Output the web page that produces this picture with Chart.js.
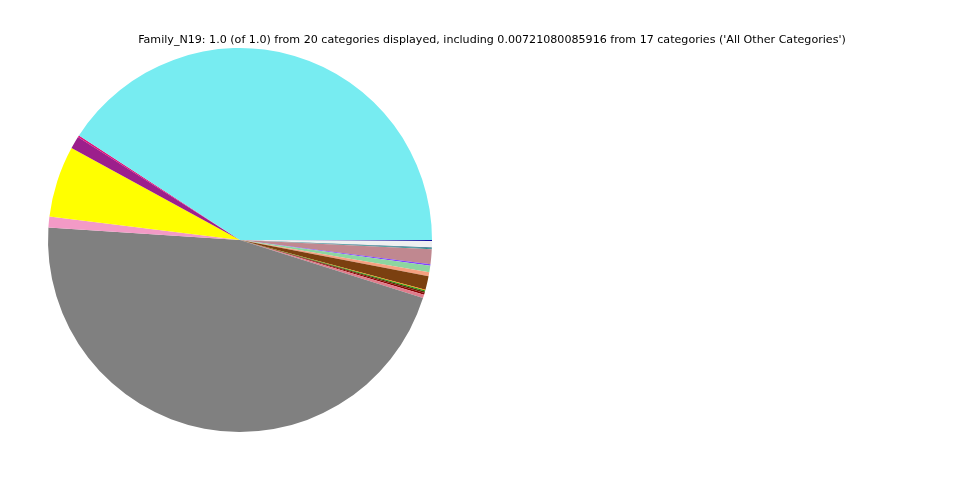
<!DOCTYPE html>
<html><head><meta charset="utf-8">
<script src="https://cdn.jsdelivr.net/npm/chart.js@4/dist/chart.umd.min.js"></script>
<style>html,body{margin:0;padding:0;background:#fff;}#wrap{width:960px;height:480px;}</style>
</head><body><div id="wrap"><canvas id="c" width="960" height="480"></canvas></div>
<script>
// Categories in matplotlib counter-clockwise order starting at 3 o'clock
const categories = ["Cat A","Cat B","Cat C","Cat D","Cat E","Cat F","Cat G","Cat H","Cat I","Cat J","Cat K","Cat L","Cat M","Cat N","Cat O","Cat P","Cat Q","Cat R","Cat S","All Other Categories"];
const values = [0.408,0.0015,0.0105,0.060,0.0092,0.461,0.003,0.0015,0.0012,0.0008,0.0008,0.0115,0.0033,0.0055,0.0012,0.0125,0.0008,0.0005,0.0055,0.0008];
const colors = ["#77ecf1","#e0107a","#9c1f8c","#ffff00","#f39ac6","#808080","#e07c8c","#8b0000","#5a2a00","#00a000","#ff8c00","#7b4010","#f5a080","#8cd6a0","#8040ff","#c08890","#2f8f8f","#1f5f7f","#eef0f0","#1010a0"];
const titleText = "Family_N19: 1.0 (of 1.0) from 20 categories displayed, including 0.00721080085916 from 17 categories ('All Other Categories')";

// Chart.js draws clockwise from rotation; reverse to mimic counter-clockwise layout
const labelsCW = categories.slice().reverse();
const valuesCW = values.slice().reverse();
const colorsCW = colors.slice().reverse();

const titlePlugin = {
  id: 'freeTitle',
  afterDraw(chart) {
    const ctx = chart.ctx;
    ctx.save();
    ctx.font = '11.1px "DejaVu Sans"';
    ctx.fillStyle = '#000';
    ctx.textAlign = 'center';
    ctx.textBaseline = 'middle';
    ctx.fillText(titleText, 492, 40);
    ctx.restore();
  }
};

new Chart(document.getElementById('c'), {
  type: 'pie',
  data: { labels: labelsCW, datasets: [{ data: valuesCW, backgroundColor: colorsCW, borderWidth: 0 }] },
  options: {
    responsive: false,
    animation: false,
    rotation: 90,
    layout: { padding: { left: 48, right: 528, top: 48, bottom: 48 } },
    plugins: { legend: { display: false }, title: { display: false }, tooltip: { enabled: false } }
  },
  plugins: [titlePlugin]
});
</script></body></html>
